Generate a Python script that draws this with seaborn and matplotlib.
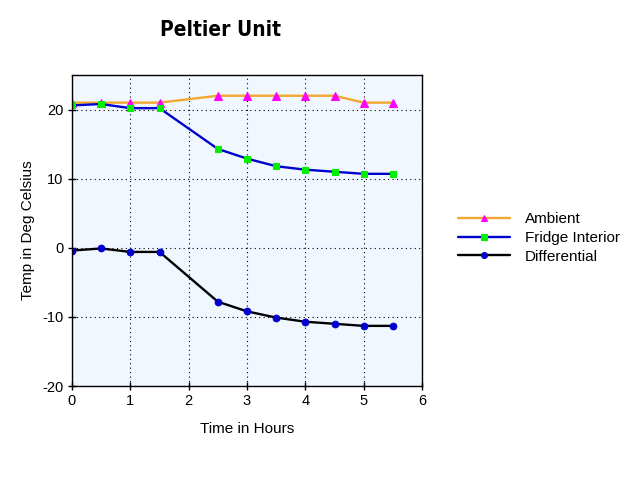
import numpy as np
import pandas as pd
import matplotlib
matplotlib.use("Agg")
import matplotlib.pyplot as plt
import seaborn as sns
from matplotlib.ticker import MultipleLocator

# Dati
hours = [0, 0.5, 1, 1.5, 2.5, 3, 3.5, 4, 4.5, 5, 5.5]
ambient = [21, 21, 21, 21, 22, 22, 22, 22, 22, 21, 21]
fridge = [20.6, 20.8, 20.2, 20.2, 14.3, 12.9, 11.8, 11.3, 11.0, 10.7, 10.7]
differential = [-0.4, -0.1, -0.6, -0.6, -7.8, -9.2, -10.1, -10.7, -11.0, -11.3, -11.3]

sns.set_style("white")
plt.rcParams['font.family'] = ['Liberation Sans', 'DejaVu Sans']
plt.rcParams['axes.unicode_minus'] = False
plt.rcParams['text.color'] = 'black'
plt.rcParams['axes.labelcolor'] = 'black'
plt.rcParams['xtick.color'] = 'black'
plt.rcParams['ytick.color'] = 'black'

fig = plt.figure(figsize=(6.4, 4.8), dpi=100)
ax = fig.add_axes([72 / 640, 94 / 480, 350 / 640, 311 / 480])
ax.set_facecolor("#f0f7fe")

series = [
    ("Ambient", ambient, "#f0a830", "^", "#ff00ff", 5.5),
    ("Fridge Interior", fridge, "#0000cc", "s", "#00ee00", 4.8),
    ("Differential", differential, "#000000", "o", "#0000cc", 4.8),
]
for name, vals, col, mk, mcol, ms in series:
    sns.lineplot(x=hours, y=vals, ax=ax, color=col, linewidth=1.7,
                 marker=mk, markersize=ms, markerfacecolor=mcol,
                 markeredgecolor=mcol, label=name)

ax.set_xlim(0, 6)
ax.set_ylim(-20, 25)
ax.xaxis.set_major_locator(MultipleLocator(1))
ax.xaxis.set_minor_locator(MultipleLocator(0.5))
ax.yaxis.set_major_locator(MultipleLocator(10))
ax.yaxis.set_minor_locator(MultipleLocator(5))
ax.tick_params(which="major", direction="inout", length=6, width=1,
               labelsize=10.5, pad=3)
ax.tick_params(which="minor", direction="inout", length=5, width=1)
ax.tick_params(axis="x", bottom=True)
ax.tick_params(axis="y", left=True)
ax.grid(True, which="major", color="black", linestyle=(0, (1, 3)), linewidth=0.8)
for s in ax.spines.values():
    s.set_color("black")
    s.set_linewidth(1)

ax.set_xlabel("Time in Hours", fontsize=11, labelpad=10)
ax.set_ylabel("Temp in Deg Celsius", fontsize=11, labelpad=5)

fig.text(220 / 640, 1 - 30 / 480, "Peltier Unit", ha="center", va="center",
         fontsize=15, fontweight="heavy", fontstretch="condensed",
         family=["DejaVu Sans", "Liberation Sans"])

ax.get_legend().remove()
handles, labels = ax.get_legend_handles_labels()
fig.legend(handles, labels, loc="center left", bbox_to_anchor=(444 / 640, 1 - 238 / 480),
           frameon=False, fontsize=11, handlelength=3.4, handletextpad=1.0,
           labelspacing=0.3, markerscale=0.9)

fig.savefig("out.png", dpi=100)
